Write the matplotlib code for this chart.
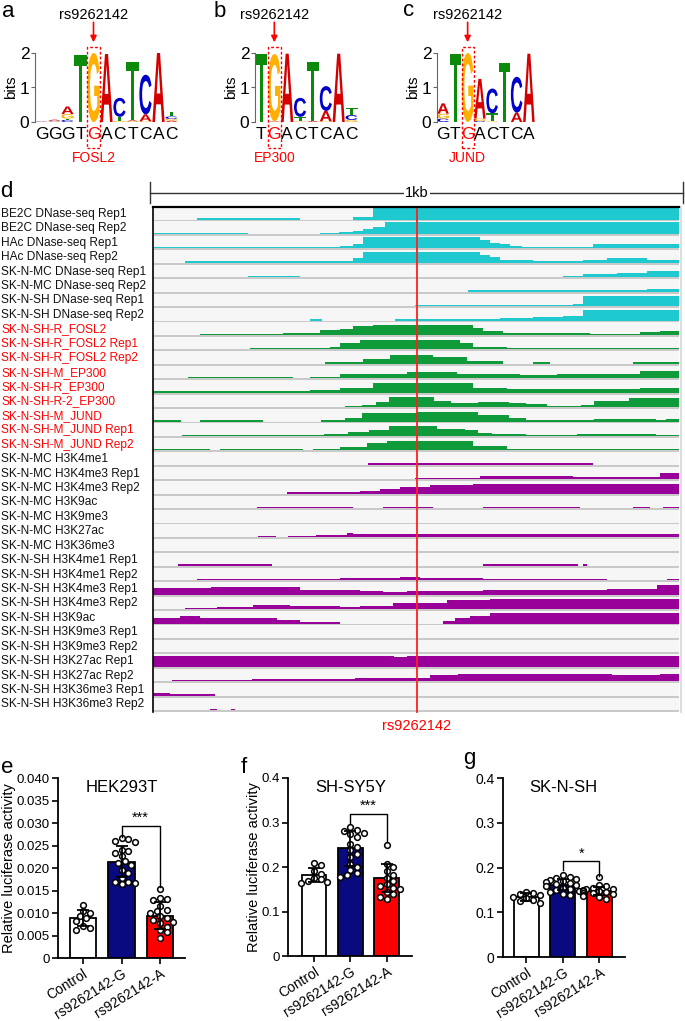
import numpy as np
import matplotlib
matplotlib.use('Agg')
import matplotlib.pyplot as plt
from matplotlib.patches import Rectangle, PathPatch
from matplotlib.textpath import TextPath
from matplotlib.font_manager import FontProperties
from matplotlib.transforms import Affine2D, blended_transform_factory

plt.rcParams['font.family'] = ['Liberation Sans', 'DejaVu Sans']

# ---------------- data ----------------
snp_id = 'rs9262142'

# motif logos (letter, bits), stacked bottom -> top
logo_names = ['FOSL2', 'EP300', 'JUND']
logo_seqs = ['GGGTGACTCAC', 'TGACTCAC', 'GTGACTCA']
logo_snp_col = [4, 1, 2]
fosl2_stacks = [
    [('C', 0.01), ('A', 0.01)],
    [('G', 0.02), ('C', 0.02), ('A', 0.03)],
    [('C', 0.06), ('T', 0.04), ('G', 0.13), ('A', 0.22)],
    [('T', 1.95)],
    [('G', 2.0)],
    [('A', 1.97)],
    [('G', 0.03), ('T', 0.12), ('C', 0.55)],
    [('G', 0.02), ('A', 0.03), ('T', 1.7)],
    [('G', 0.02), ('A', 0.2), ('C', 1.15)],
    [('A', 2.0)],
    [('A', 0.04), ('G', 0.05), ('C', 0.07), ('T', 0.14)],
]
ep300_stacks = [
    [('T', 1.98)],
    [('A', 0.02), ('G', 1.95)],
    [('A', 1.98)],
    [('G', 0.02), ('T', 0.13), ('C', 0.55)],
    [('A', 0.03), ('T', 1.72)],
    [('G', 0.02), ('A', 0.3), ('C', 0.72)],
    [('A', 1.98)],
    [('G', 0.06), ('C', 0.14), ('T', 0.2)],
]
jund_stacks = [
    [('C', 0.1), ('G', 0.14), ('A', 0.3)],
    [('T', 1.98)],
    [('G', 2.0)],
    [('C', 0.03), ('G', 0.07), ('A', 1.15)],
    [('G', 0.02), ('T', 0.23), ('C', 0.72)],
    [('T', 1.72)],
    [('A', 0.27), ('C', 1.04)],
    [('A', 1.98)],
]
letter_colors = {'A': '#d40000', 'C': '#0000c8', 'G': '#ffb000', 'T': '#0b8a0b'}

# genome browser tracks: (start bp, relative signal) steps over a 1 kb window
window_bp = 1000
snp_bp = 502
track_labels = [
    'BE2C DNase-seq Rep1', 'BE2C DNase-seq Rep2', 'HAc DNase-seq Rep1', 'HAc DNase-seq Rep2',
    'SK-N-MC DNase-seq Rep1', 'SK-N-MC DNase-seq Rep2', 'SK-N-SH DNase-seq Rep1', 'SK-N-SH DNase-seq Rep2',
    'SK-N-SH-R_FOSL2', 'SK-N-SH-R_FOSL2 Rep1', 'SK-N-SH-R_FOSL2 Rep2', 'SK-N-SH-M_EP300',
    'SK-N-SH-R_EP300', 'SK-N-SH-R-2_EP300', 'SK-N-SH-M_JUND', 'SK-N-SH-M_JUND Rep1', 'SK-N-SH-M_JUND Rep2',
    'SK-N-MC H3K4me1', 'SK-N-MC H3K4me3 Rep1', 'SK-N-MC H3K4me3 Rep2', 'SK-N-MC H3K9ac',
    'SK-N-MC H3K9me3', 'SK-N-MC H3K27ac', 'SK-N-MC H3K36me3',
    'SK-N-SH H3K4me1 Rep1', 'SK-N-SH H3K4me1 Rep2', 'SK-N-SH H3K4me3 Rep1', 'SK-N-SH H3K4me3 Rep2',
    'SK-N-SH H3K9ac', 'SK-N-SH H3K9me3 Rep1', 'SK-N-SH H3K9me3 Rep2', 'SK-N-SH H3K27ac Rep1',
    'SK-N-SH H3K27ac Rep2', 'SK-N-SH H3K36me3 Rep1', 'SK-N-SH H3K36me3 Rep2',
]
track_kind = ['dnase'] * 8 + ['tf'] * 9 + ['histone'] * 18
track_steps = [
    [(0, 0), (84, 0.05), (103, 0.08), (260, 0.05), (279, 0), (380, 0.2), (418, 1.0)],
    [(0, 0.12), (46, 0.05), (181, 0), (317, 0.05), (354, 0.15), (380, 0.25), (399, 0.4), (418, 0.6), (441, 1.0)],
    [(0, 0.05), (122, 0.08), (222, 0.12), (260, 0.1), (342, 0.15), (355, 0.2), (380, 0.4), (399, 1.0),
     (622, 0.7), (641, 0.5), (660, 0.35), (679, 0.2), (701, 0.08), (836, 0.35)],
    [(0, 0), (61, 0.05), (141, 0.08), (222, 0.05), (342, 0.1), (355, 0.2), (380, 0.45), (399, 0.95),
     (622, 0.7), (641, 0.5), (660, 0.25), (722, 0.15), (817, 0.25), (863, 0.4), (939, 0.25)],
    [(0, 0), (181, 0.05), (279, 0), (779, 0.15), (817, 0.25), (882, 0.35), (939, 0.55)],
    [(0, 0), (599, 0.05), (660, 0.08), (817, 0.15), (939, 0.22)],
    [(0, 0), (498, 0.05), (523, 0.1), (660, 0.08), (798, 0.15), (817, 0.9)],
    [(0, 0), (298, 0.08), (321, 0), (460, 0.08), (502, 0.15), (660, 0.2), (722, 0.3), (779, 0.4), (817, 0.9)],
    [(0, 0), (89, 0.05), (127, 0.08), (247, 0.15), (317, 0.4), (355, 0.55), (380, 0.75), (418, 0.85),
     (608, 0.6), (627, 0.35), (665, 0.15), (831, 0.12), (874, 0.05), (888, 0.1), (926, 0.25), (964, 0.35)],
    [(0, 0), (184, 0.05), (247, 0.1), (336, 0.25), (355, 0.55), (393, 0.8), (418, 0.85), (584, 0.55),
     (608, 0.2), (673, 0.1), (926, 0.15)],
    [(0, 0), (327, 0.05), (355, 0.2), (399, 0.4), (451, 0.8), (532, 0.55), (597, 0.25), (665, 0),
     (722, 0.1), (755, 0), (912, 0.1)],
    [(0, 0), (67, 0.05), (105, 0.1), (228, 0.05), (266, 0), (298, 0.1), (355, 0.4), (483, 0.5),
     (578, 0.35), (698, 0.25), (768, 0.35), (926, 0.6)],
    [(0, 0.05), (203, 0.1), (298, 0.2), (355, 0.45), (418, 0.8), (608, 0.45), (673, 0.3), (926, 0.45)],
    [(0, 0), (365, 0.05), (397, 0.2), (424, 0.45), (449, 0.85), (534, 0.55), (566, 0.4), (618, 0.45),
     (677, 0.35), (709, 0.25), (749, 0.1), (814, 0.2), (838, 0.5), (905, 0.75)],
    [(0, 0.03), (53, 0), (89, 0.05), (209, 0), (319, 0.1), (365, 0.3), (397, 0.75), (502, 0.85),
     (618, 0.55), (677, 0.3), (709, 0.1), (787, 0.15), (838, 0.2), (956, 0.1), (975, 0.25)],
    [(0, 0), (55, 0.05), (124, 0.08), (182, 0.05), (260, 0.05), (325, 0.15), (371, 0.35), (411, 0.55),
     (449, 0.85), (540, 0.6), (593, 0.5), (618, 0.3), (644, 0.15), (709, 0.1), (806, 0.15), (956, 0.12)],
    [(0, 0.03), (108, 0), (127, 0.03), (285, 0), (304, 0.03), (336, 0.1), (355, 0.3), (407, 0.6),
     (445, 0.85), (508, 0.8), (608, 0.4), (673, 0.15), (736, 0.1)],
    [(0, 0), (409, 0.05), (445, 0.1), (456, 0.05), (520, 0.1), (532, 0.05), (836, 0)],
    [(0, 0), (498, 0.1), (508, 0.15), (622, 0.25), (798, 0.2), (964, 0.5)],
    [(0, 0), (255, 0.05), (355, 0.1), (393, 0.25), (432, 0.4), (470, 0.6), (527, 0.75), (608, 0.85)],
    [(0, 0), (198, 0.05), (380, 0), (437, 0.05), (532, 0), (627, 0.08), (812, 0), (912, 0.05),
     (945, 0), (970, 0.05)],
    [(0, 0)],
    [(0, 0), (200, 0.05), (233, 0), (257, 0.1), (310, 0.2), (369, 0.35), (380, 0.25)],
    [(0, 0)],
    [(0, 0), (48, 0.05), (95, 0.1), (127, 0.05), (226, 0), (627, 0.05), (722, 0.1), (745, 0.05),
     (808, 0), (817, 0.05), (825, 0)],
    [(0, 0), (84, 0.05), (122, 0.15), (165, 0.1), (255, 0.05), (300, 0.15), (355, 0.2), (470, 0.3),
     (508, 0.2), (627, 0.05), (863, 0), (977, 0.1)],
    [(0, 0.6), (50, 0.55), (110, 0.65), (279, 0.45), (355, 0.4), (393, 0.3), (437, 0.2), (483, 0.3),
     (627, 0.4), (736, 0.45), (863, 0.5), (958, 0.8)],
    [(0, 0), (61, 0.05), (122, 0.15), (190, 0.4), (260, 0.3), (355, 0.15), (393, 0.3), (456, 0.5),
     (559, 0.75), (641, 0.9)],
    [(0, 0.45), (51, 0.65), (89, 0.45), (236, 0.3), (279, 0.15), (355, 0), (551, 0.25), (575, 0.45),
     (603, 0.65), (641, 0.9)],
    [(0, 0)],
    [(0, 0)],
    [(0, 0.95), (458, 0.85), (483, 0.95)],
    [(0, 0), (36, 0.1), (46, 0.15), (188, 0.2), (384, 0.3), (527, 0.5), (580, 0.65), (873, 0.55), (964, 0.65)],
    [(0, 0.25), (32, 0.15), (78, 0.05), (118, 0)],
    [(0, 0), (108, 0.08), (122, 0), (148, 0.04), (156, 0)],
]
kind_colors = {'dnase': '#1ec9cf', 'tf': '#0f9b3a', 'histone': '#990099'}

# luciferase assays
groups = ['Control', 'rs9262142-G', 'rs9262142-A']
bar_colors = ['white', '#0a0a80', '#ff0000']

hek_mean = [0.0089, 0.0214, 0.0094]
hek_sd = [0.0017, 0.0035, 0.0030]
hek_ctrl = [0.0118, 0.0104, 0.0101, 0.0093, 0.0088, 0.0082, 0.0072, 0.0066, 0.0063]
hek_g = [0.0267, 0.0265, 0.0261, 0.0257, 0.0241, 0.0237, 0.0233, 0.0226, 0.0215, 0.0211, 0.0207,
         0.0196, 0.019, 0.0178, 0.017, 0.0168, 0.0167, 0.0165]
hek_a = [0.0154, 0.0133, 0.0131, 0.0128, 0.0115, 0.0107, 0.0104, 0.01, 0.0093, 0.0089, 0.0085,
         0.0081, 0.0078, 0.007, 0.0063, 0.0057, 0.0045]

sy5y_mean = [0.182, 0.242, 0.175]
sy5y_sd = [0.015, 0.040, 0.031]
sy5y_ctrl = [0.21, 0.205, 0.19, 0.185, 0.176, 0.172, 0.169, 0.167, 0.165]
sy5y_g = [0.289, 0.284, 0.282, 0.277, 0.274, 0.268, 0.252, 0.246, 0.238, 0.23, 0.222, 0.207, 0.2,
          0.193, 0.186, 0.182, 0.178]
sy5y_a = [0.25, 0.206, 0.2, 0.19, 0.183, 0.175, 0.168, 0.161, 0.157, 0.153, 0.15, 0.143, 0.14, 0.133, 0.129]

sknsh_mean = [0.134, 0.162, 0.148]
sknsh_sd = [0.008, 0.012, 0.009]
sknsh_ctrl = [0.145, 0.142, 0.14, 0.138, 0.135, 0.132, 0.128, 0.125, 0.12]
sknsh_g = [0.183, 0.178, 0.176, 0.175, 0.172, 0.17, 0.168, 0.165, 0.163, 0.16, 0.158, 0.155, 0.152,
           0.15, 0.148, 0.145, 0.14, 0.138]
sknsh_a = [0.178, 0.16, 0.158, 0.155, 0.153, 0.152, 0.15, 0.148, 0.147, 0.145, 0.143, 0.142, 0.14,
           0.138, 0.136, 0.133, 0.13]

# significance: (label, bracket y, left leg end, right leg end)
hek_sig = ('***', 0.0294, 0.0270, 0.0158)
sy5y_sig = ('***', 0.320, 0.300, 0.256)
sknsh_sig = ('*', 0.214, 0.195, 0.181)

# ---------------- figure ----------------
W, H = 685, 1021
fig = plt.figure(figsize=(W / 100, H / 100), dpi=100)


def px_axes(x0, y0, x1, y1):
    return fig.add_axes([x0 / W, 1 - y1 / H, (x1 - x0) / W, (y1 - y0) / H])


def fig_text(x, y, s, **kw):
    fig.text(x / W, 1 - y / H, s, **kw)


LOGO_FP = FontProperties(family='Liberation Sans', weight='bold')


def draw_letter(ax, ch, x, y, w, h):
    tp = TextPath((0, 0), ch, size=1, prop=LOGO_FP)
    bb = tp.get_extents()
    t = Affine2D().translate(-bb.x0, -bb.y0).scale(w / bb.width, h / bb.height).translate(x, y)
    ax.add_patch(PathPatch(t.transform_path(tp), fc=letter_colors[ch], ec='none', lw=0))


def draw_logo(box, stacks, seq, snp_col, name):
    ax = px_axes(*box)
    ax.set_xlim(0, len(stacks))
    ax.set_ylim(0, 2)
    for i, stack in enumerate(stacks):
        y = 0
        for ch, h in stack:
            draw_letter(ax, ch, i + 0.03, y, 0.94, h)
            y += h
    for s in ['top', 'right', 'bottom']:
        ax.spines[s].set_visible(False)
    ax.spines['left'].set_linewidth(0.8)
    ax.spines['left'].set_color('#666666')
    ax.set_xticks([])
    ax.set_yticks([0, 1, 2])
    ax.tick_params(axis='y', length=3, width=0.8, labelsize=12.5, pad=1, color='#666666')
    ax.set_ylabel('bits', fontsize=11, labelpad=1)
    for i, ch in enumerate(seq):
        ax.text(i + 0.5, -0.36, ch, ha='center', va='center', fontsize=12.5,
                color='red' if i == snp_col else 'black', clip_on=False)
    ax.add_patch(Rectangle((snp_col, -0.74), 1, 2.92, fill=False, ec='red', lw=1,
                           ls=(0, (2, 1.5)), clip_on=False))
    ax.annotate('', xy=(snp_col + 0.5, 2.23), xytext=(snp_col + 0.5, 2.97),
                arrowprops=dict(arrowstyle='-|>', color='red', lw=1.2, mutation_scale=9),
                annotation_clip=False)
    ax.text(snp_col + 0.5, 3.1, snp_id, ha='center', va='center', fontsize=10.5, clip_on=False)
    ax.text(snp_col + 0.5, -1.05, name, ha='center', va='center', fontsize=10, color='red', clip_on=False)


draw_logo((35, 53, 178, 122), fosl2_stacks, logo_seqs[0], logo_snp_col[0], logo_names[0])
draw_logo((255, 53, 358, 122), ep300_stacks, logo_seqs[1], logo_snp_col[1], logo_names[1])
draw_logo((437, 53, 535, 122), jund_stacks, logo_seqs[2], logo_snp_col[2], logo_names[2])

# ---------------- tracks ----------------
n_tracks = len(track_labels)
ax = px_axes(153, 207, 679, 712)
ax.set_xlim(0, window_bp)
ax.set_ylim(n_tracks, 0)
ax.axis('off')
sep = 0.13
for k in range(n_tracks):
    ax.add_patch(Rectangle((0, k), window_bp, 1, fc='#f6f6f6', ec='none', zorder=0))
    ax.add_patch(Rectangle((0, k + 1 - sep), window_bp, sep, fc='#c9c9c9', ec='none', zorder=1))
    starts = [s for s, v in track_steps[k]] + [window_bp]
    vals = np.array([v for s, v in track_steps[k]] + [track_steps[k][-1][1]])
    heights = np.where(vals > 0, np.maximum(vals * 0.8, 0.1), 0)
    base = k + 1 - sep
    ax.fill_between(starts, base, base - heights, step='post',
                    color=kind_colors[track_kind[k]], lw=0, zorder=2)
lab_tr = blended_transform_factory(fig.transFigure, ax.transData)
for k, lab in enumerate(track_labels):
    ax.text(0.0015, k + 0.48, lab, transform=lab_tr, ha='left', va='center', fontsize=8.6,
            color='red' if track_kind[k] == 'tf' else '#111111')
ax.plot([0, window_bp], [0, 0], color='black', lw=1.6, clip_on=False, zorder=5)
ax.plot([0, 0], [0, n_tracks], color='black', lw=1.2, clip_on=False, zorder=5)
ax.plot([1003, 1003], [0, n_tracks], color='#dddddd', lw=1.5, clip_on=False)
ax.plot([snp_bp, snp_bp], [0.12, n_tracks], color='#ff2020', lw=1.3, clip_on=False, zorder=6)
ax.text(snp_bp, n_tracks + 0.95, snp_id, ha='center', va='center', color='red', fontsize=10.5)
# 1 kb scale bar
ax.plot([-6, 1007], [-0.97, -0.97], color='#333333', lw=1, clip_on=False)
for xe in (-6, 1007):
    ax.plot([xe, xe], [-1.7, -0.25], color='#333333', lw=1, clip_on=False)
ax.text(snp_bp, -0.97, '1kb', ha='center', va='center', fontsize=10.5,
        bbox=dict(fc='white', ec='none', pad=1))


# ---------------- bar charts ----------------
def swarm_offsets(vals, ypx, xpx, diam=6.0):
    order = np.argsort(vals)[::-1]
    placed = []
    offs = np.zeros(len(vals))
    for i in order:
        y = vals[i] * ypx
        for k in [0, 1, -1, 2, -2, 3, -3, 4, -4, 5, -5]:
            x = k * diam * 0.55
            if all((x - px) ** 2 + (y - py) ** 2 >= (diam * 0.95) ** 2 for px, py in placed):
                break
        placed.append((x, y))
        offs[i] = x / xpx
    return offs


def bar_panel(box, xlim, ymax, ticks, ticklabels, mean, sd, points, title, sig, ylabel, ylab_x, tsize):
    ax = px_axes(*box)
    ax.set_xlim(*xlim)
    ax.set_ylim(0, ymax)
    xs = np.arange(len(groups))
    ax.bar(xs, mean, width=0.68, color=bar_colors, edgecolor='black', lw=1.3, zorder=1)
    ypx = (box[3] - box[1]) / ymax
    xpx = (box[2] - box[0]) / (xlim[1] - xlim[0])
    for i, pts in enumerate(points):
        off = swarm_offsets(np.array(pts), ypx, xpx)
        ax.scatter(xs[i] + off, pts, s=17, facecolor='white', edgecolor='black', lw=1.1, zorder=3)
    ax.errorbar(xs, mean, yerr=sd, fmt='none', ecolor='black', elinewidth=1.3, capsize=4.5,
                capthick=1.3, zorder=4)
    lab, yb, yl, yr = sig
    ax.plot([1, 1, 2, 2], [yl, yb, yb, yr], color='black', lw=1.0, zorder=5)
    ax.text(1.5, yb + ymax * 0.004, lab, ha='center', va='bottom', fontsize=10.5)
    ax.text(1.0, 0.945, title, transform=blended_transform_factory(ax.transData, ax.transAxes),
            ha='center', va='center', fontsize=12)
    for s in ['top', 'right']:
        ax.spines[s].set_visible(False)
    for s in ['left', 'bottom']:
        ax.spines[s].set_linewidth(1.3)
    ax.set_yticks(ticks)
    ax.set_yticklabels(ticklabels)
    ax.set_xticks(xs)
    ax.set_xticklabels(groups, rotation=32, ha='right', rotation_mode='anchor')
    ax.tick_params(axis='both', length=4, width=1.2, pad=2)
    ax.tick_params(axis='y', labelsize=tsize)
    ax.tick_params(axis='x', labelsize=10)
    if ylabel:
        ax.set_ylabel(ylabel, fontsize=10.5)
        ax.yaxis.set_label_coords(ylab_x, 0.5)
    return ax


e_ticks = [0, 0.005, 0.010, 0.015, 0.020, 0.025, 0.030, 0.035, 0.040]
e_labels = ['0', '0.005', '0.010', '0.015', '0.020', '0.025', '0.030', '0.035', '0.040']
fg_ticks = [0, 0.1, 0.2, 0.3, 0.4]
fg_labels = ['0', '0.1', '0.2', '0.3', '0.4']

bar_panel((58, 778, 185, 958), (-0.65, 2.65), 0.04, e_ticks, e_labels, hek_mean, hek_sd,
          [hek_ctrl, hek_g, hek_a], 'HEK293T', hek_sig, 'Relative luciferase activity', -0.33, 9.5)
bar_panel((288, 778, 412, 956), (-0.72, 2.7), 0.4, fg_ticks, fg_labels, sy5y_mean, sy5y_sd,
          [sy5y_ctrl, sy5y_g, sy5y_a], 'SH-SY5Y', sy5y_sig, 'Relative luciferase activity', -0.215, 9.5)
bar_panel((503, 778, 625, 957), (-0.64, 2.7), 0.4, fg_ticks, fg_labels, sknsh_mean, sknsh_sd,
          [sknsh_ctrl, sknsh_g, sknsh_a], 'SK-N-SH', sknsh_sig, None, None, 10)

# panel letters
for lab, x, y in [('a', 2, 17), ('b', 214, 17), ('c', 403, 16), ('d', 0, 197),
                  ('e', 1, 773), ('f', 241, 773), ('g', 463, 764)]:
    fig_text(x, y, lab, fontsize=16, ha='left', va='baseline')

fig.savefig('out.png', dpi=100)
